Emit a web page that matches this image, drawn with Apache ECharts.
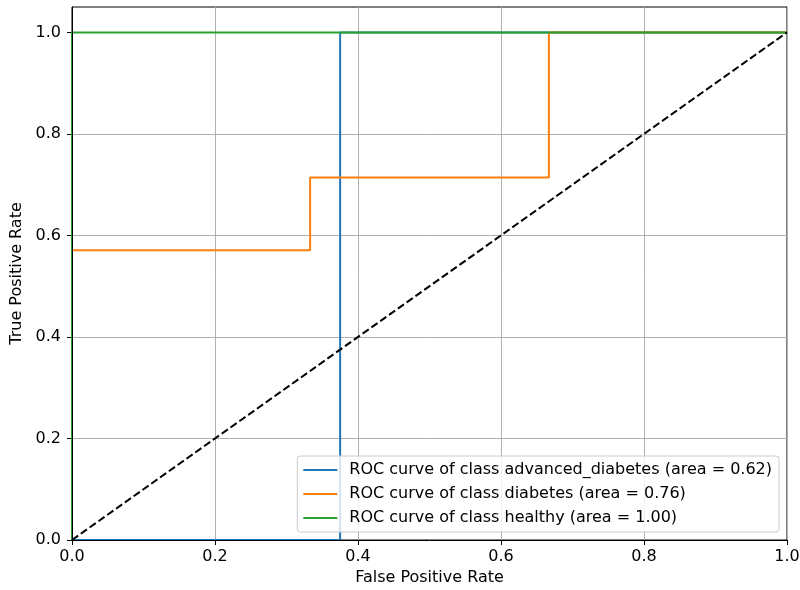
<!DOCTYPE html>
<html>
<head>
<meta charset="utf-8">
<script src="https://cdn.jsdelivr.net/npm/echarts@6/dist/echarts.min.js"></script>
<style>html,body{margin:0;padding:0;background:#fff}#c{width:800px;height:590px}</style>
</head>
<body>
<div id="c"></div>
<script>
var seriesNames = [
  'ROC curve of class advanced_diabetes (area = 0.62)',
  'ROC curve of class diabetes (area = 0.76)',
  'ROC curve of class healthy (area = 1.00)'
];
var fprAdvanced = [0, 0.375, 0.375, 1];
var tprAdvanced = [0, 0, 1, 1];
var fprDiabetes = [0, 0, 0.333, 0.333, 0.667, 0.667, 1];
var tprDiabetes = [0, 0.571, 0.571, 0.714, 0.714, 1, 1];
var fprHealthy = [0, 0, 1];
var tprHealthy = [0, 1, 1];
var diagX = [0, 1];
var diagY = [0, 1];
var xTicks = [0, 0.2, 0.4, 0.6, 0.8, 1.0];
var yTicks = [0, 0.2, 0.4, 0.6, 0.8, 1.0];
var colors = ['#1f77b4', '#ff7f0e', '#2ca02c'];

function pairs(xs, ys) { return xs.map(function (x, i) { return [x, ys[i]]; }); }

var font = 'DejaVu Sans';
var fs = 16;
var chart = echarts.init(document.getElementById('c'), null, {renderer: 'canvas'});
chart.setOption({
  animation: false,
  backgroundColor: '#fff',
  textStyle: {fontFamily: font},
  grid: {left: 72, right: 13, top: 7, bottom: 50, show: true, borderColor: '#000', borderWidth: 1,
    backgroundColor: 'transparent', outerBoundsMode: 'none', containLabel: false},
  legend: {
    data: seriesNames,
    orient: 'vertical',
    right: 21,
    bottom: 58,
    itemWidth: 34,
    itemHeight: 16,
    itemGap: 8,
    padding: [6, 7, 6, 5],
    backgroundColor: 'rgba(255,255,255,0.8)',
    borderColor: '#cccccc',
    borderWidth: 1,
    borderRadius: 3,
    itemStyle: {opacity: 0},
    lineStyle: {width: 2},
    textStyle: {fontFamily: font, fontSize: fs, color: '#000', padding: [0, 0, 0, 7]}
  },
  xAxis: [{
    type: 'value', min: 0, max: 1, interval: 0.2,
    name: 'False Positive Rate', nameLocation: 'middle', nameGap: 30,
    nameTextStyle: {fontFamily: font, fontSize: fs, color: '#000'},
    axisLine: {show: false},
    axisTick: {show: true, length: 5, lineStyle: {color: '#000'}, customValues: xTicks},
    axisLabel: {fontFamily: font, fontSize: fs, color: '#000', margin: 9, customValues: xTicks,
      formatter: function (v) { return (+v).toFixed(1); }},
    splitLine: {show: true, lineStyle: {color: '#b0b0b0', width: 1}}
  }, {
    type: 'value', min: 0, max: 1, position: 'bottom', z: 10,
    axisLine: {show: true, onZero: false, lineStyle: {color: '#000', width: 1}},
    axisTick: {show: false}, axisLabel: {show: false}, splitLine: {show: false}
  }],
  yAxis: [{
    type: 'value', min: 0, max: 1.05, interval: 0.2,
    name: 'True Positive Rate', nameLocation: 'middle', nameGap: 43,
    nameTextStyle: {fontFamily: font, fontSize: fs, color: '#000'},
    axisLine: {show: false},
    axisTick: {show: true, length: 5, lineStyle: {color: '#000'}, customValues: yTicks},
    axisLabel: {fontFamily: font, fontSize: fs, color: '#000', margin: 11, customValues: yTicks,
      formatter: function (v) { return (+v).toFixed(1); }},
    splitLine: {show: true, lineStyle: {color: '#b0b0b0', width: 1}}
  }, {
    type: 'value', min: 0, max: 1.05, position: 'left', z: 10,
    axisLine: {show: true, onZero: false, lineStyle: {color: '#000', width: 1}},
    axisTick: {show: false}, axisLabel: {show: false}, splitLine: {show: false}
  }],
  series: [
    {name: seriesNames[0], type: 'line', data: pairs(fprAdvanced, tprAdvanced), symbol: 'none', color: colors[0], lineStyle: {width: 2, color: colors[0]}, z: 2},
    {name: seriesNames[1], type: 'line', data: pairs(fprDiabetes, tprDiabetes), symbol: 'none', color: colors[1], lineStyle: {width: 2, color: colors[1]}, z: 3},
    {name: seriesNames[2], type: 'line', data: pairs(fprHealthy, tprHealthy), symbol: 'none', color: colors[2], lineStyle: {width: 2, color: colors[2]}, z: 4},
    {name: 'diag', type: 'line', data: pairs(diagX, diagY), symbol: 'none', color: '#000', lineStyle: {width: 2, color: '#000', type: [7.5, 3.3]}, z: 5}
  ]
});
</script>
</body>
</html>
